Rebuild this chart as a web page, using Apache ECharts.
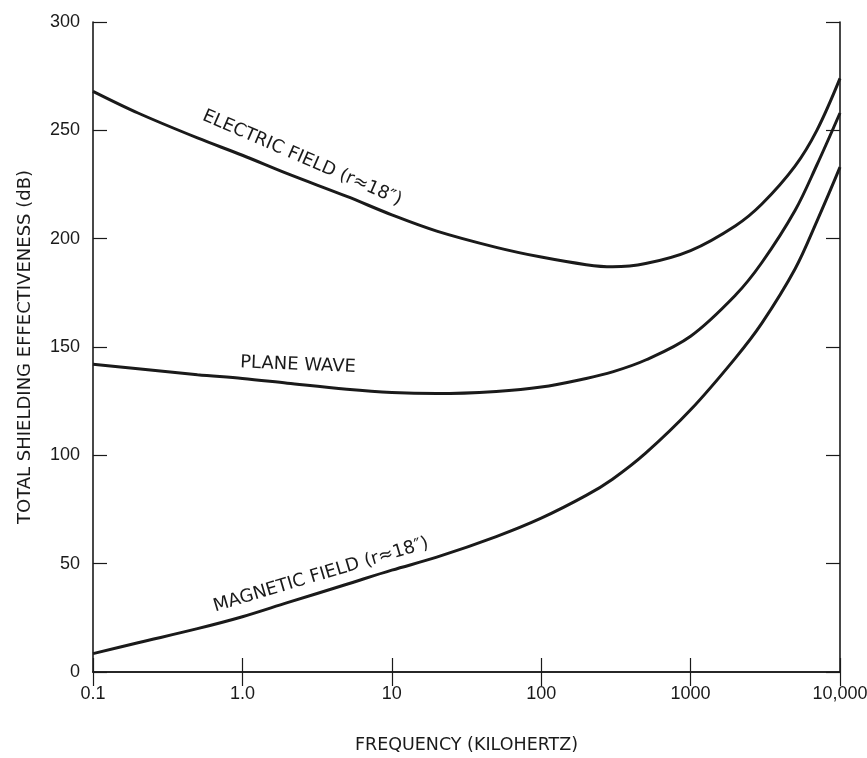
<!DOCTYPE html>
<html>
<head>
<meta charset="utf-8">
<script src="https://cdn.jsdelivr.net/npm/echarts@6/dist/echarts.min.js"></script>
<style>
html,body{margin:0;padding:0;background:#fff;}
#chart{width:867px;height:758px;}
</style>
</head>
<body>
<div id="chart"></div>
<script>
// Frequency (kHz)
const frequencies = [0.1, 0.2, 0.5, 1, 2, 5, 10, 20, 50, 100, 200, 300, 500, 1000, 2000, 3000, 5000, 7000, 10000];
// Total shielding effectiveness (dB)
const electricField = [268, 258, 246.5, 238.5, 230, 219.5, 211, 203.5, 196, 191.5, 188, 187, 188.5, 194.5, 206, 216, 233.5, 250, 274];
const planeWave = [142, 140, 137.2, 135.5, 133.3, 130.5, 129, 128.5, 129.5, 131.5, 135.5, 138.5, 144, 155, 174, 189, 213, 234, 258];
const magneticField = [8.5, 13.5, 20, 25.5, 32, 40.5, 47, 53, 62.5, 71, 81.5, 89, 101, 121, 145, 161, 186, 208, 233];
const xTickLabels = ["0.1", "1.0", "10", "100", "1000", "10,000"];
const yTickLabels = ["0", "50", "100", "150", "200", "250", "300"];
const seriesNames = ["ELECTRIC FIELD (r\u224818\u2033)", "PLANE WAVE", "MAGNETIC FIELD (r\u224818\u2033)"];

const FONT = "'Liberation Sans', Arial, sans-serif";
const WIDE = "'DejaVu Sans', 'Liberation Sans', sans-serif";
const INK = '#1a1a1a';

function pairs(ys) { return frequencies.map((f, i) => [f, ys[i]]); }

const chart = echarts.init(document.getElementById('chart'), null, {renderer: 'canvas'});

const axisLineStyle = {color: INK, width: 1.6};
const tickStyle = {show: true, inside: true, length: 14, lineStyle: {color: INK, width: 1.2}};

function lineSeries(name, ys) {
  return {
    name: name,
    type: 'line',
    data: pairs(ys),
    smooth: 0.35,
    showSymbol: false,
    symbol: 'none',
    clip: true,
    lineStyle: {color: INK, width: 3},
    z: 5
  };
}

const option = {
  backgroundColor: '#fff',
  animation: false,
  grid: {left: 93, right: 27, top: 22, bottom: 86, containLabel: false, outerBoundsMode: 'none'},
  xAxis: [
    {
      type: 'log', logBase: 10, min: 0.1, max: 10000,
      position: 'bottom',
      name: 'FREQUENCY (KILOHERTZ)',
      nameLocation: 'middle', nameGap: 64,
      nameTextStyle: {fontFamily: WIDE, fontSize: 17.5, color: INK},
      axisLine: {show: true, lineStyle: axisLineStyle},
      axisTick: tickStyle,
      minorTick: {show: false},
      splitLine: {show: false},
      axisLabel: {
        margin: 13, fontFamily: FONT, fontSize: 18, color: INK,
        formatter: function (v) {
          const i = Math.round(Math.log10(v)) + 1;
          return xTickLabels[i] !== undefined ? xTickLabels[i] : '';
        }
      }
    },
    {
      type: 'log', logBase: 10, min: 0.1, max: 10000,
      position: 'top',
      axisLine: {show: true, lineStyle: axisLineStyle},
      axisTick: tickStyle,
      axisLabel: {show: false},
      splitLine: {show: false}
    }
  ],
  yAxis: [
    {
      type: 'value', min: 0, max: 300, interval: 50,
      position: 'left',
      name: 'TOTAL SHIELDING EFFECTIVENESS (dB)',
      nameLocation: 'middle', nameGap: 59,
      nameTextStyle: {fontFamily: WIDE, fontSize: 18, color: INK},
      axisLine: {show: true, lineStyle: axisLineStyle},
      axisTick: tickStyle,
      splitLine: {show: false},
      axisLabel: {
        margin: 13, fontFamily: FONT, fontSize: 18, color: INK,
        formatter: function (v) { return yTickLabels[Math.round(v / 50)]; }
      }
    },
    {
      type: 'value', min: 0, max: 300, interval: 50,
      position: 'right',
      axisLine: {show: true, lineStyle: axisLineStyle},
      axisTick: tickStyle,
      axisLabel: {show: false},
      splitLine: {show: false}
    }
  ],
  series: [
    lineSeries(seriesNames[0], electricField),
    lineSeries(seriesNames[1], planeWave),
    lineSeries(seriesNames[2], magneticField)
  ],
  graphic: [
    {
      type: 'text', x: 302, y: 158, rotation: -0.41,
      style: {text: seriesNames[0], fontFamily: WIDE, fontSize: 18, fill: INK, align: 'center', verticalAlign: 'middle'}
    },
    {
      type: 'text', x: 298, y: 365, rotation: -0.04,
      style: {text: seriesNames[1], fontFamily: WIDE, fontSize: 18, fill: INK, align: 'center', verticalAlign: 'middle'}
    },
    {
      type: 'text', x: 321, y: 575, rotation: 0.29,
      style: {text: seriesNames[2], fontFamily: WIDE, fontSize: 18, fill: INK, align: 'center', verticalAlign: 'middle'}
    }
  ]
};

chart.setOption(option);
</script>
</body>
</html>
